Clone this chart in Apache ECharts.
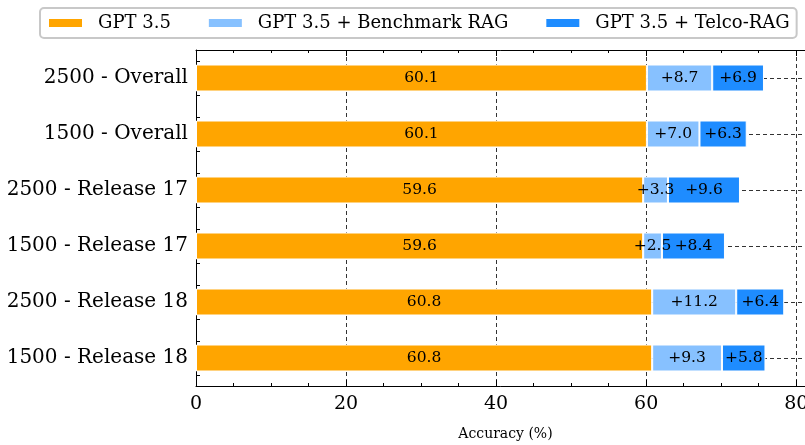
<!DOCTYPE html>
<html>
<head>
<meta charset="utf-8">
<script src="https://cdn.jsdelivr.net/npm/echarts@6/dist/echarts.min.js"></script>
<style>html,body{margin:0;padding:0;background:#fff}#c{width:805px;height:445px}</style>
</head>
<body>
<div id="c"></div>
<script>
const categories = ['2500 - Overall', '1500 - Overall', '2500 - Release 17', '1500 - Release 17', '2500 - Release 18', '1500 - Release 18'];
const gpt35 = [60.1, 60.1, 59.6, 59.6, 60.8, 60.8];
const benchmarkRag = [8.7, 7.0, 3.3, 2.5, 11.2, 9.3];
const telcoRag = [6.9, 6.3, 9.6, 8.4, 6.4, 5.8];
const seriesNames = ['GPT 3.5', 'GPT 3.5 + Benchmark RAG', 'GPT 3.5 + Telco-RAG'];
const xTicks = [0, 20, 40, 60, 80];

// helper slots: half-steps (grid lines at category centres) and tenth-steps (minor y ticks)
const centreSlots = [];
for (let i = 0; i <= categories.length * 2; i++) centreSlots.push(String(i));
const tenthSlots = [];
for (let i = 0; i <= categories.length * 10; i++) tenthSlots.push(String(i));

const FONT = 'DejaVu Serif';
const chart = echarts.init(document.getElementById('c'));
const dash = { color: '#333', type: [4, 3], width: 1 };

const labelStyle = (plus) => ({
  show: true, position: 'inside', color: '#000', fontFamily: FONT, fontSize: 15.5,
  formatter: p => (plus ? '+' : '') + p.value.toFixed(1)
});

chart.setOption({
  animation: false,
  backgroundColor: '#fff',
  textStyle: { fontFamily: FONT },
  legend: {
    left: 40, top: 8,
    padding: [6, 7, 6, 7],
    borderColor: '#c8c8c8', borderWidth: 2, borderRadius: 4,
    itemWidth: 35, itemHeight: 10, itemGap: 36,
    icon: 'rect',
    textStyle: { fontFamily: FONT, fontSize: 18, color: '#000', padding: [0, 0, 0, 10] },
    data: seriesNames
  },
  grid: { left: 196, right: -10, top: 50, bottom: 59, containLabel: false, outerBoundsMode: 'none' },
  xAxis: [{
    type: 'value', min: xTicks[0], max: 82.5, interval: 20,
    position: 'bottom',
    name: 'Accuracy (%)', nameLocation: 'middle', nameGap: 41,
    nameTextStyle: { fontFamily: FONT, fontSize: 14, color: '#000' },
    axisLine: { show: true, lineStyle: { color: '#000', width: 1 } },
    axisTick: { show: true, inside: true, length: 6, lineStyle: { color: '#000' } },
    minorTick: { show: true, splitNumber: 4, length: 3, lineStyle: { color: '#000' } },
    axisLabel: { fontFamily: FONT, fontSize: 19, color: '#000', margin: 9,
      formatter: v => xTicks.indexOf(v) >= 0 ? String(v) : '' },
    splitLine: { show: true, lineStyle: dash }
  }, {
    type: 'value', min: xTicks[0], max: 82.5, interval: 20,
    position: 'top',
    axisLine: { show: true, lineStyle: { color: '#000', width: 1 } },
    axisTick: { show: true, inside: true, length: 6, lineStyle: { color: '#000' } },
    minorTick: { show: true, splitNumber: 4, length: 3, lineStyle: { color: '#000' } },
    axisLabel: { show: false },
    splitLine: { show: false }
  }],
  yAxis: [{
    type: 'category', data: categories, inverse: true,
    axisLine: { show: true, lineStyle: { color: '#000', width: 1 } },
    axisTick: { show: false },
    axisLabel: { fontFamily: FONT, fontSize: 20, color: '#000', margin: 8 },
    splitLine: { show: false }
  }, {
    type: 'category', data: centreSlots, boundaryGap: false, position: 'right',
    axisLine: { show: false }, axisTick: { show: false }, axisLabel: { show: false },
    splitLine: { show: true, interval: (i) => i % 2 === 1, lineStyle: dash }
  }, {
    type: 'category', data: tenthSlots, boundaryGap: false, position: 'left',
    axisLine: { show: false }, axisLabel: { show: false }, splitLine: { show: false },
    axisTick: { show: true, inside: true, length: 4, lineStyle: { color: '#000' },
      interval: (i) => (i % 10 === 2 || i % 10 === 8) }
  }],
  series: [{
    name: seriesNames[0], type: 'bar', stack: 'acc', data: gpt35, barWidth: 27,
    itemStyle: { color: '#FFA500', borderColor: '#fff', borderWidth: 1 },
    label: labelStyle(false)
  }, {
    name: seriesNames[1], type: 'bar', stack: 'acc', data: benchmarkRag, barWidth: 27,
    itemStyle: { color: '#87C1FF', borderColor: '#fff', borderWidth: 1 },
    label: labelStyle(true)
  }, {
    name: seriesNames[2], type: 'bar', stack: 'acc', data: telcoRag, barWidth: 27,
    itemStyle: { color: '#1E8CFF', borderColor: '#fff', borderWidth: 1 },
    label: labelStyle(true)
  }]
});
</script>
</body>
</html>
